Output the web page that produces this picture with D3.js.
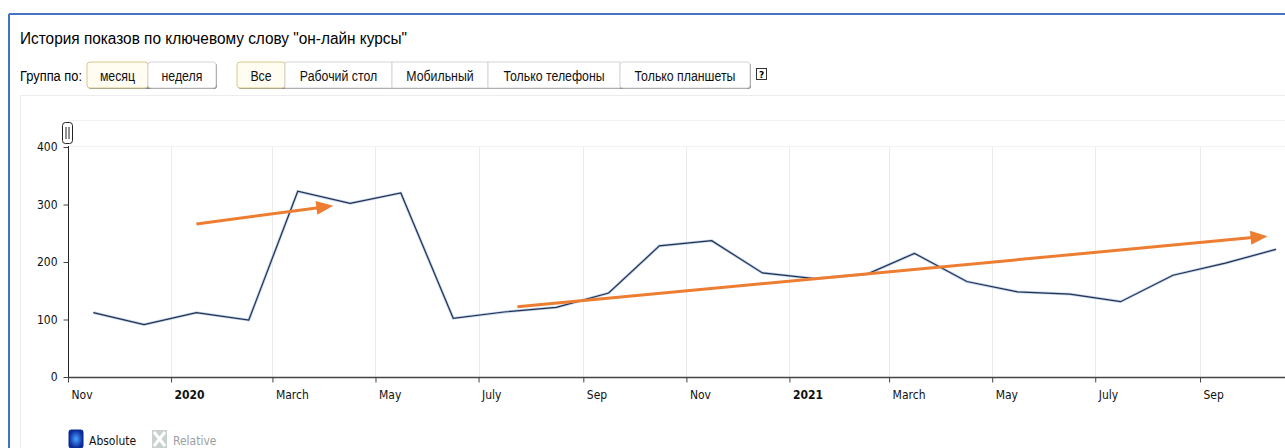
<!DOCTYPE html>
<html>
<head>
<meta charset="utf-8">
<script src="https://cdn.jsdelivr.net/npm/d3@7"></script>
<style>
  html, body { margin: 0; padding: 0; background: #fff; }
  svg { display: block; }
</style>
</head>
<body>
<script>
// ---- data ----
const months = ["2019-11", "2019-12", "2020-01", "2020-02", "2020-03", "2020-04", "2020-05",
  "2020-06", "2020-07", "2020-08", "2020-09", "2020-10", "2020-11", "2020-12", "2021-01",
  "2021-02", "2021-03", "2021-04", "2021-05", "2021-06", "2021-07", "2021-08", "2021-09", "2021-10"];
const shows = [112, 91, 112, 99, 323, 302, 320, 102, 113, 121, 146, 228, 237, 181, 171,
  179, 215, 166, 148, 144, 131, 177, 198, 222];

const tickMonths = ["2019-11", "2020-01", "2020-03", "2020-05", "2020-07", "2020-09",
  "2020-11", "2021-01", "2021-03", "2021-05", "2021-07", "2021-09"];
const tickLabels = ["Nov", "2020", "March", "May", "July", "Sep", "Nov", "2021", "March", "May", "July", "Sep"];
const yTicks = [0, 100, 200, 300, 400];

// trend arrows drawn over the chart: [date, value] at start and end
const arrowStarts = [["2020-01-16", 266], ["2020-07-24", 122]];
const arrowEnds = [["2020-04-06", 298], ["2021-10-11", 245]];

const groupButtons = ["месяц", "неделя"];
const deviceButtons = ["Все", "Рабочий стол", "Мобильный", "Только телефоны", "Только планшеты"];

// ---- page ----
const W = 1285, H = 448;
const svg = d3.select("body").append("svg").attr("width", W).attr("height", H);

const defs = svg.append("defs");
const grad = defs.append("radialGradient").attr("id", "absGrad");
grad.append("stop").attr("offset", "0%").attr("stop-color", "#4aa3ff");
grad.append("stop").attr("offset", "100%").attr("stop-color", "#0a2a9a");

// blue frame
svg.append("line").attr("x1", 9).attr("x2", W).attr("y1", 14).attr("y2", 14)
  .attr("stroke", "#4472c4").attr("stroke-width", 2);
svg.append("line").attr("x1", 9).attr("x2", 9).attr("y1", 14).attr("y2", H)
  .attr("stroke", "#4472c4").attr("stroke-width", 2);

svg.append("text").attr("x", 20).attr("y", 44)
  .attr("font-family", "Liberation Sans, Arial, sans-serif").attr("font-size", 16)
  .attr("fill", "#000")
  .attr("textLength", 387).attr("lengthAdjust", "spacingAndGlyphs")
  .text("История показов по ключевому слову \"он-лайн курсы\"");

svg.append("text").attr("x", 20).attr("y", 81)
  .attr("font-family", "Liberation Sans, Arial, sans-serif").attr("font-size", 14)
  .attr("textLength", 62).attr("lengthAdjust", "spacingAndGlyphs")
  .text("Группа по:");

// button groups
function buttonGroup(x0, widths, labels, selected) {
  const g = svg.append("g");
  const total = d3.sum(widths);
  g.append("rect").attr("x", x0 + 1).attr("y", 63).attr("width", total).attr("height", 26)
    .attr("rx", 3).attr("fill", "#888");
  let bx = x0;
  labels.forEach((lab, i) => {
    const w = widths[i];
    g.append("rect").attr("x", bx).attr("y", 62).attr("width", w).attr("height", 26)
      .attr("rx", i === 0 || i === labels.length - 1 ? 3 : 0)
      .attr("fill", i === selected ? "#fffdf1" : "#fff")
      .attr("stroke", i === selected ? "#d9c88a" : "#d6d6d6").attr("stroke-width", 1);
    const t = g.append("text").attr("x", bx + w / 2).attr("y", 81).attr("text-anchor", "middle")
      .attr("font-family", "Liberation Sans, Arial, sans-serif").attr("font-size", 14)
      .attr("fill", "#111").text(lab);
    // the original buttons use a narrow face
    const natural = t.node().getComputedTextLength();
    t.attr("textLength", natural * 0.88).attr("lengthAdjust", "spacingAndGlyphs");
    bx += w;
  });
}
buttonGroup(87, [61, 68], groupButtons, 0);
buttonGroup(237, [48, 107, 96, 132, 130], deviceButtons, 0);

// help icon
svg.append("rect").attr("x", 756.5).attr("y", 68.5).attr("width", 10).attr("height", 11)
  .attr("fill", "#fff").attr("stroke", "#333");
svg.append("text").attr("x", 761.5).attr("y", 78).attr("text-anchor", "middle")
  .attr("font-family", "DejaVu Sans, sans-serif").attr("font-size", 9).attr("font-weight", "bold")
  .text("?");

// chart panel
svg.append("rect").attr("x", 20.5).attr("y", 95.5).attr("width", W).attr("height", H)
  .attr("fill", "#fff").attr("stroke", "#ececec");
svg.append("line").attr("x1", 68).attr("x2", W).attr("y1", 120.5).attr("y2", 120.5)
  .attr("stroke", "#f3f3f3");

// ---- scales ----
const parseM = d3.timeParse("%Y-%m");
const parseD = d3.timeParse("%Y-%m-%d");
const mid = m => d3.timeDay.offset(parseM(m), 15);

const plotL = 68, plotR = W, plotT = 147, plotB = 377;
const x = d3.scaleTime()
  .domain([parseM("2019-11"), parseM("2021-09")])
  .range([plotL, 1200]);
const y = d3.scaleLinear().domain([0, 400]).range([plotB, plotT]);

const chart = svg.append("g");

// vertical grid
chart.append("g").selectAll("line").data(tickMonths).join("line")
  .attr("x1", d => Math.round(x(parseM(d))) + 0.5).attr("x2", d => Math.round(x(parseM(d))) + 0.5)
  .attr("y1", plotT).attr("y2", plotB).attr("stroke", "#ebebeb");
chart.append("line").attr("x1", plotL).attr("x2", plotR).attr("y1", plotT - 0.5).attr("y2", plotT - 0.5)
  .attr("stroke", "#f3f3f3");

// axes
const axisFont = "DejaVu Sans Condensed, DejaVu Sans, Verdana, sans-serif";
const yAxis = chart.append("g").attr("transform", `translate(${plotL + 0.5},0)`)
  .call(d3.axisLeft(y).tickValues(yTicks).tickSize(5).tickPadding(6).tickFormat(d3.format("d")));
yAxis.select(".domain").attr("stroke", "#222").attr("d", `M0,${plotT - 1}V${plotB}`);
yAxis.selectAll(".tick line").attr("stroke", "#444");
yAxis.selectAll("text").attr("font-family", axisFont).attr("font-size", 12).attr("fill", "#111");

const xAxis = chart.append("g").attr("transform", `translate(0,${plotB + 0.5})`)
  .call(d3.axisBottom(x).tickValues(tickMonths.map(parseM)).tickSize(5)
    .tickFormat((d, i) => tickLabels[i]));
xAxis.select(".domain").attr("stroke", "#444").attr("stroke-width", 1.5)
  .attr("d", `M${plotL},0H${plotR}`);
xAxis.selectAll(".tick line").attr("stroke", "#444");
xAxis.selectAll("text")
  .attr("font-family", axisFont).attr("font-size", 12).attr("fill", "#111")
  .attr("text-anchor", "start").attr("x", 3).attr("y", 13)
  .attr("font-weight", (d, i) => /^\d+$/.test(tickLabels[i]) ? "bold" : "normal");

// series line
const points = months.map((m, i) => ({ date: mid(m), value: shows[i] }));
const line = d3.line().x(d => x(d.date)).y(d => y(d.value));
chart.append("path").datum(points).attr("d", line)
  .attr("fill", "none").attr("stroke", "#8fb4e8").attr("stroke-width", 2.8).attr("opacity", 0.6);
chart.append("path").datum(points).attr("d", line)
  .attr("fill", "none").attr("stroke", "#27324a").attr("stroke-width", 1.2);

// handle above the axis
const hg = svg.append("g");
hg.append("rect").attr("x", 62.5).attr("y", 122.5).attr("width", 10).attr("height", 21)
  .attr("rx", 3).attr("fill", "#fff").attr("stroke", "#222");
[66, 69].forEach(hx => hg.append("line").attr("x1", hx).attr("x2", hx)
  .attr("y1", 127).attr("y2", 139).attr("stroke", "#222"));

// orange trend arrows
const orange = "#ed7d31";
arrowStarts.forEach((s, i) => {
  const e = arrowEnds[i];
  const x1 = x(parseD(s[0])), y1 = y(s[1]);
  const x2 = x(parseD(e[0])), y2 = y(e[1]);
  const ang = Math.atan2(y2 - y1, x2 - x1);
  const len = 17, half = 7;
  const bx = x2 - len * Math.cos(ang), by = y2 - len * Math.sin(ang);
  svg.append("line").attr("x1", x1).attr("y1", y1)
    .attr("x2", bx + 2 * Math.cos(ang)).attr("y2", by + 2 * Math.sin(ang))
    .attr("stroke", orange).attr("stroke-width", 3);
  const px = -Math.sin(ang), py = Math.cos(ang);
  svg.append("path")
    .attr("d", `M${x2},${y2}L${bx + half * px},${by + half * py}L${bx - half * px},${by - half * py}Z`)
    .attr("fill", orange);
});

// legend
const lg = svg.append("g");
lg.append("rect").attr("x", 69).attr("y", 430).attr("width", 14).attr("height", 18)
  .attr("rx", 2).attr("fill", "url(#absGrad)").attr("stroke", "#0a2a8a");
lg.append("text").attr("x", 89).attr("y", 445).attr("font-family", axisFont).attr("font-size", 12)
  .attr("fill", "#111").text("Absolute");
lg.append("rect").attr("x", 152).attr("y", 430).attr("width", 15).attr("height", 18)
  .attr("fill", "#c9d0d0");
lg.append("path").attr("d", "M154,432L165,446M165,432L154,446")
  .attr("stroke", "#fff").attr("stroke-width", 3);
lg.append("text").attr("x", 173).attr("y", 445).attr("font-family", axisFont).attr("font-size", 12)
  .attr("fill", "#9aa0a0").text("Relative");
</script>
</body>
</html>
